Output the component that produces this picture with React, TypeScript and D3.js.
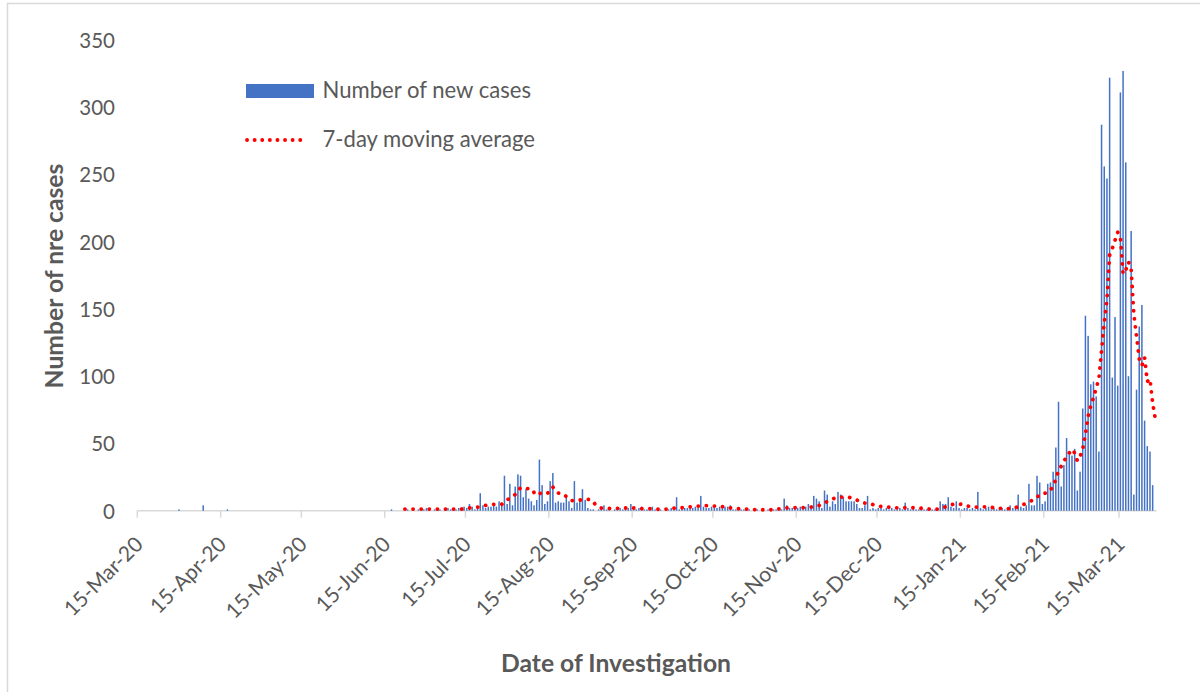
import React from "react";
import * as d3 from "d3";

// ---------- DATA (daily new cases) ----------
const casesStart = "2020-03-15";
const casesMar20 = [0, 0, 0, 0, 0, 0, 0, 0, 0, 0, 0, 0, 0, 0, 0, 1, 0];
const casesApr20 = [0, 0, 0, 0, 0, 0, 0, 4, 0, 0, 0, 0, 0, 0, 0, 0, 1, 0, 0, 0, 0, 0, 0, 0, 0, 0, 0, 0, 0, 0];
const casesMay20 = [0, 0, 0, 0, 0, 0, 0, 0, 0, 0, 0, 0, 0, 0, 0, 0, 0, 0, 0, 0, 0, 0, 0, 0, 0, 0, 0, 0, 0, 0, 0];
const casesJun20 = [0, 0, 0, 0, 0, 0, 0, 0, 0, 0, 0, 0, 0, 0, 0, 0, 1, 0, 0, 0, 0, 0, 1, 0, 1, 0, 1, 0, 1, 2];
const casesJul20 = [1, 0, 1, 2, 1, 0, 1, 2, 1, 0, 1, 2, 1, 3, 2, 5, 3, 1, 2, 13, 4, 2, 3, 3, 5, 3, 7, 6, 26, 5, 20];
const casesAug20 = [4, 18, 27, 26, 10, 16, 9, 7, 4, 8, 38, 19, 5, 7, 22, 28, 6, 7, 6, 6, 10, 7, 2, 22, 6, 8, 16, 8, 2, 1, 1];
const casesSep20 = [0, 1, 1, 4, 1, 1, 0, 1, 1, 2, 1, 1, 2, 5, 2, 1, 2, 3, 1, 1, 2, 3, 1, 1, 1, 0, 1, 1, 2, 1];
const casesOct20 = [10, 1, 2, 2, 2, 4, 2, 3, 2, 11, 3, 2, 2, 3, 2, 2, 3, 2, 3, 3, 4, 1, 1, 2, 1, 1, 1, 1, 0, 1, 1];
const casesNov20 = [0, 1, 0, 1, 0, 1, 1, 2, 1, 9, 4, 2, 2, 3, 2, 3, 2, 3, 5, 3, 11, 9, 7, 2, 15, 12, 3, 7, 5, 14];
const casesDec20 = [12, 10, 7, 7, 7, 7, 5, 2, 2, 4, 11, 1, 2, 1, 2, 3, 1, 2, 1, 2, 1, 1, 2, 1, 6, 2, 1, 2, 1, 1, 2];
const casesJan21 = [1, 1, 0, 1, 1, 2, 7, 5, 5, 10, 3, 2, 7, 2, 1, 2, 2, 1, 2, 1, 14, 2, 1, 2, 3, 1, 2, 1, 1, 2, 1];
const casesFeb21 = [2, 4, 2, 3, 12, 3, 2, 4, 20, 4, 4, 26, 21, 5, 7, 20, 21, 29, 47, 81, 18, 34, 54, 42, 41, 46, 15, 29];
const casesMar21 = [76, 145, 130, 94, 96, 85, 44, 287, 256, 247, 322, 99, 144, 93, 311, 327, 259, 100, 208, 12, 90, 137, 153, 67, 48, 44, 19, 0];

// 7-day moving average, starting 22-Jun-20
const maStart = "2020-06-22";
const maJun20 = [1.2, 1.2, 1.2, 1.2, 1.2, 1.2, 1.2, 1.2, 1.2];
const maJul20 = [1.2, 1.2, 1.2, 1.2, 1.2, 1.2, 1.2, 1.2, 1.2, 1.2, 1.2, 1.2, 1.2, 1.5, 1.8, 2, 2.2, 2.4, 2.6, 3, 3.5, 3.9, 4.2, 4.5, 4.7, 4.7, 4.7, 4.8, 6.5, 8, 9.5];
const maAug20 = [10.5, 12, 15, 17, 16.6, 16.5, 16.4, 16.3, 13.5, 11.4, 12.5, 13.6, 13.3, 13, 14.5, 17.6, 15, 13.1, 12.7, 12.3, 10.5, 8.5, 7.5, 7.4, 7.6, 7.9, 8.2, 8.3, 8.4, 8.4, 6.5];
const maSep20 = [4.2, 3, 2, 1.7, 1.7, 1.7, 1.7, 1.7, 1.7, 1.8, 1.9, 2, 2, 2, 2, 2, 1.8, 1.6, 1.5, 1.5, 1.5, 1.5, 1.3, 1.1, 1, 1.1, 1.2, 1.2, 1.5, 1.9];
const maOct20 = [2.2, 2.2, 2.2, 2.2, 2.5, 2.8, 3, 3.2, 3.4, 3.5, 3.6, 3.7, 3.7, 3.6, 3.4, 3.2, 3.1, 3, 3, 2.6, 2.1, 1.8, 1.6, 1.5, 1.5, 1.3, 1.2, 1, 0.9, 0.8, 0.7];
const maNov20 = [0.7, 0.7, 0.7, 0.7, 0.7, 0.8, 1, 1.3, 1.6, 1.8, 2, 2.1, 2.2, 2.2, 2.2, 2.2, 2.3, 2.4, 2.5, 2.7, 3, 3.3, 3.9, 4.8, 5.8, 6.8, 8, 8.8, 9.3, 9.8];
const maDec20 = [10, 10.2, 10.4, 10, 9.4, 8.8, 7.9, 6.9, 6, 5.7, 5.5, 5.2, 4.5, 3.9, 3.5, 3.2, 3.1, 2.9, 2.6, 2.3, 2.2, 2.1, 2.1, 2.1, 2.2, 2.3, 2.3, 2.2, 2.1, 2, 1.8];
const maJan21 = [1.6, 1.5, 1.2, 0.9, 0.8, 1.2, 1.7, 2.2, 3, 3.9, 4.4, 4.8, 5.1, 5, 4.7, 4.3, 3.7, 3, 2.6, 2.6, 2.7, 2.7, 2.8, 2.9, 3, 2.6, 2, 1.7, 1.7, 1.6, 1.6];
const maFeb21 = [1.6, 1.6, 1.7, 2.3, 3, 3.8, 4.6, 5.6, 6.4, 7.5, 8.5, 10, 12, 12.8, 13, 13.4, 15, 18.8, 23, 30, 33, 36.5, 40.6, 43, 45.6, 43, 37, 40];
const maMar21 = [46, 57, 70, 78, 84, 91, 98, 119, 140, 157, 190, 195, 201, 207, 204, 176, 179, 185, 180, 146, 130, 113, 108, 114, 96, 98, 80, 68];

const yTicks = [0, 50, 100, 150, 200, 250, 300, 350];
const xTickLabels = [
  "15-Mar-20", "15-Apr-20", "15-May-20", "15-Jun-20", "15-Jul-20", "15-Aug-20", "15-Sep-20",
  "15-Oct-20", "15-Nov-20", "15-Dec-20", "15-Jan-21", "15-Feb-21", "15-Mar-21",
];
const axisEnd = "2021-03-29";
const legendLabels = ["Number of new cases", "7-day moving average"];
const yTitle = "Number of nre cases";
const xTitle = "Date of Investigation";

// ---------- CHART ----------
const W = 1200;
const H = 692;
const TEXT = "#595959";
const FONT = "Lato, 'Open Sans', sans-serif";

const parseIso = d3.utcParse("%Y-%m-%d");
const parseTick = d3.utcParse("%d-%b-%y");

export default function App() {
  const cases = [
    ...casesMar20, ...casesApr20, ...casesMay20, ...casesJun20, ...casesJul20, ...casesAug20,
    ...casesSep20, ...casesOct20, ...casesNov20, ...casesDec20, ...casesJan21, ...casesFeb21, ...casesMar21,
  ];
  const ma = [
    ...maJun20, ...maJul20, ...maAug20, ...maSep20, ...maOct20, ...maNov20,
    ...maDec20, ...maJan21, ...maFeb21, ...maMar21,
  ];
  const start = parseIso(casesStart) as Date;
  const maStartD = parseIso(maStart) as Date;

  const x = d3.scaleUtc().domain([start, parseIso(axisEnd) as Date]).range([137.3, 1156.7]);
  const y = d3.scaleLinear().domain([0, 350]).range([510.7, 40]);
  const dayCenter = (base: Date, i: number) => x(d3.utcHour.offset(d3.utcDay.offset(base, i), 12));

  const barW = 1.5;
  const line = d3
    .line<number>()
    .x((_, i) => dayCenter(maStartD, i))
    .y((v) => y(v));

  const baseY = y(0);

  return (
    <svg
      width={W}
      height={H}
      style={{ position: "absolute", left: 0, top: 0, display: "block", background: "#fff" }}
      fontFamily={FONT}
    >
      <rect x={0} y={0} width={W} height={H} fill="#fff" />
      <rect x={7.5} y={3.5} width={1250} height={760} fill="none" stroke="#d9d9d9" strokeWidth={1.5} />

      {/* y tick labels */}
      {yTicks.map((t) => (
        <text key={t} x={115} y={y(t)} textAnchor="end" dominantBaseline="central" fontSize={20.5} fill={TEXT}>
          {t}
        </text>
      ))}

      {/* x axis */}
      <line x1={x.range()[0]} x2={x.range()[1]} y1={baseY} y2={baseY} stroke="#d9d9d9" strokeWidth={1.5} />
      {xTickLabels.map((lab) => {
        const tx = x(parseTick(lab) as Date);
        return (
          <g key={lab}>
            <line x1={tx} x2={tx} y1={baseY} y2={baseY + 7} stroke="#d9d9d9" strokeWidth={1.5} />
            <text
              transform={`translate(${tx + 1},${baseY + 29}) rotate(-45)`}
              textAnchor="end"
              dominantBaseline="central"
              fontSize={21}
              fill={TEXT}
            >
              {lab}
            </text>
          </g>
        );
      })}

      {/* bars */}
      {cases.map((v, i) =>
        v > 0 ? (
          <rect
            key={i}
            x={dayCenter(start, i) - barW / 2}
            y={y(v)}
            width={barW}
            height={baseY - y(v)}
            fill="#4472C4"
          />
        ) : null
      )}

      {/* moving average */}
      <path
        d={line(ma) || ""}
        fill="none"
        stroke="#FF0000"
        strokeWidth={3.8}
        strokeDasharray="0.1 8"
        strokeLinecap="round"
      />

      {/* legend */}
      <rect x={246} y={84} width={68} height={14} fill="#4472C4" />
      <text x={322.5} y={98.3} fontSize={22.1} fill={TEXT}>
        {legendLabels[0]}
      </text>
      <line x1={247} x2={307} y1={140} y2={140} stroke="#FF0000" strokeWidth={3.8} strokeDasharray="0.1 7.5" strokeLinecap="round" />
      <text x={322.5} y={147} fontSize={22.1} fill={TEXT}>
        {legendLabels[1]}
      </text>

      {/* axis titles */}
      <text x={616} y={672} textAnchor="middle" fontSize={24.7} fontWeight="bold" fill={TEXT}>
        {xTitle}
      </text>
      <text transform="translate(63,276) rotate(-90)" textAnchor="middle" fontSize={24.7} fontWeight="bold" fill={TEXT}>
        {yTitle}
      </text>
    </svg>
  );
}
